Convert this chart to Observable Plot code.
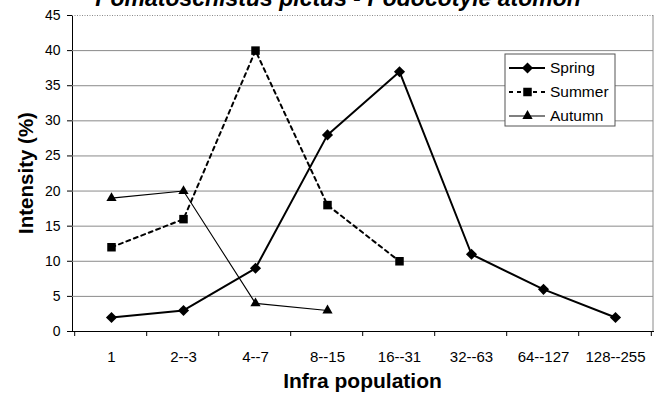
<!DOCTYPE html>
<html><head><meta charset="utf-8">
<script src="https://cdn.jsdelivr.net/npm/d3@7"></script>
<script src="https://cdn.jsdelivr.net/npm/@observablehq/plot@0.6"></script>
<style>
body{margin:0;background:#fff;}
#chart{position:relative;width:661px;height:397px;overflow:hidden;background:#fff}
svg{overflow:visible}
</style>
</head><body><div id="chart"></div>
<script>
const chartTitle = "Pomatoschistus pictus - Podocotyle atomon";
const xTitle = "Infra population";
const yTitle = "Intensity (%)";
const categories = ["1","2--3","4--7","8--15","16--31","32--63","64--127","128--255"];
const seriesNames = ["Spring","Summer","Autumn"];
const springValues = [2,3,9,28,37,11,6,2];
const summerValues = [12,16,40,18,10];
const autumnValues = [19,20,4,3];
const yTicks = [0,5,10,15,20,25,30,35,40,45];

const seriesValues = [springValues, summerValues, autumnValues];
const styles = {
  Spring: {symbol: "diamond2", r: 5, width: 2, dash: null},
  Summer: {symbol: "square", r: 4.8, width: 2, dash: "4 4"},
  Autumn: {symbol: "triangle", r: 3.8, width: 1.1, dash: null}
};
const rows = [];
seriesNames.forEach((s, i) => seriesValues[i].forEach((v, j) => rows.push({series: s, cat: categories[j], value: v})));

const font = "'Liberation Sans', Arial, sans-serif";
const marks = [
  Plot.ruleY(yTicks.filter(t => t > 0 && t < 45), {y: d => d, stroke: "#8a8a8a", strokeWidth: 1}),
  Plot.ruleY([45], {y: d => d, stroke: "#8a8a8a", strokeWidth: 1, strokeDasharray: "1 1.5"})
];
for (const s of seriesNames) {
  const st = styles[s];
  const data = rows.filter(d => d.series === s);
  marks.push(Plot.line(data, {x: "cat", y: "value", stroke: "black", strokeWidth: st.width, strokeDasharray: st.dash}));
}
for (const s of seriesNames) {
  const st = styles[s];
  const data = rows.filter(d => d.series === s);
  marks.push(Plot.dot(data, {x: "cat", y: "value", symbol: () => st.symbol, r: st.r, fill: "black", stroke: "none"}));
}

const plot = Plot.plot({
  width: 661, height: 397,
  marginLeft: 72, marginRight: 8, marginTop: 15, marginBottom: 66,
  style: {fontFamily: font, fontSize: "14px", background: "white", color: "black", overflow: "visible"},
  symbol: {type: "identity"},
  x: {type: "point", domain: categories, padding: 0.5, tickSize: 0, tickPadding: 20, line: true, label: null},
  y: {domain: [0, 45], ticks: yTicks, tickSize: 5, tickPadding: 7, line: true, label: null},
  marks
});
document.getElementById("chart").appendChild(plot);
d3.select(plot).selectAll("[aria-label='x-axis tick label'] text, g[aria-label='x-axis tick label']").attr("font-size", 15);

const svg = d3.select(plot);
const xs = plot.scale("x"), ys = plot.scale("y");
const step = (xs.range[1] - xs.range[0]) / categories.length;
const y0 = ys.apply(0), yTop = ys.apply(45);
const xRight = xs.range[1];
const g = svg.append("g").attr("text-anchor", "start");
// right border of plot area
g.append("line").attr("x1", xRight).attr("x2", xRight).attr("y1", yTop).attr("y2", y0).attr("stroke", "#8a8a8a");
// category boundary ticks
const bounds = categories.map(c => xs.apply(c) - step / 2).concat([xs.apply(categories[categories.length - 1]) + step / 2]);
g.selectAll("line.bt").data(bounds).join("line").attr("class", "bt")
  .attr("x1", d => d).attr("x2", d => d).attr("y1", y0).attr("y2", y0 + 5).attr("stroke", "black");
// titles
g.append("text").attr("x", 338).attr("y", 6).attr("text-anchor", "middle")
  .attr("font-family", font).attr("font-size", 23).attr("font-weight", "bold").attr("font-style", "italic").text(chartTitle);
g.append("text").attr("x", (xs.range[0] + xs.range[1]) / 2).attr("y", 388).attr("text-anchor", "middle")
  .attr("font-family", font).attr("font-size", 21).attr("font-weight", "bold").text(xTitle);
g.append("text").attr("transform", `translate(33,${(y0 + yTop) / 2}) rotate(-90)`).attr("text-anchor", "middle")
  .attr("font-family", font).attr("font-size", 20.5).attr("font-weight", "bold").text(yTitle);
// legend
const lg = g.append("g");
lg.append("rect").attr("x", 505).attr("y", 54).attr("width", 110).attr("height", 72)
  .attr("fill", "white").attr("stroke", "#555").attr("stroke-width", 1);
seriesNames.forEach((s, i) => {
  const st = styles[s];
  const yy = 68 + i * 24;
  lg.append("line").attr("x1", 509).attr("x2", 545).attr("y1", yy).attr("y2", yy)
    .attr("stroke", "black").attr("stroke-width", st.width).attr("stroke-dasharray", st.dash);
  const sym = {diamond2: d3.symbolDiamond2, square: d3.symbolSquare, triangle: d3.symbolTriangle}[st.symbol];
  lg.append("path").attr("transform", `translate(527.5,${yy})`)
    .attr("d", d3.symbol(sym, Math.PI * st.r * st.r)()).attr("fill", "black");
  lg.append("text").attr("x", 550).attr("y", yy).attr("dy", "0.35em").attr("text-anchor", "start")
    .attr("font-family", font).attr("font-size", 15.5).text(s);
});
</script>
</body></html>
